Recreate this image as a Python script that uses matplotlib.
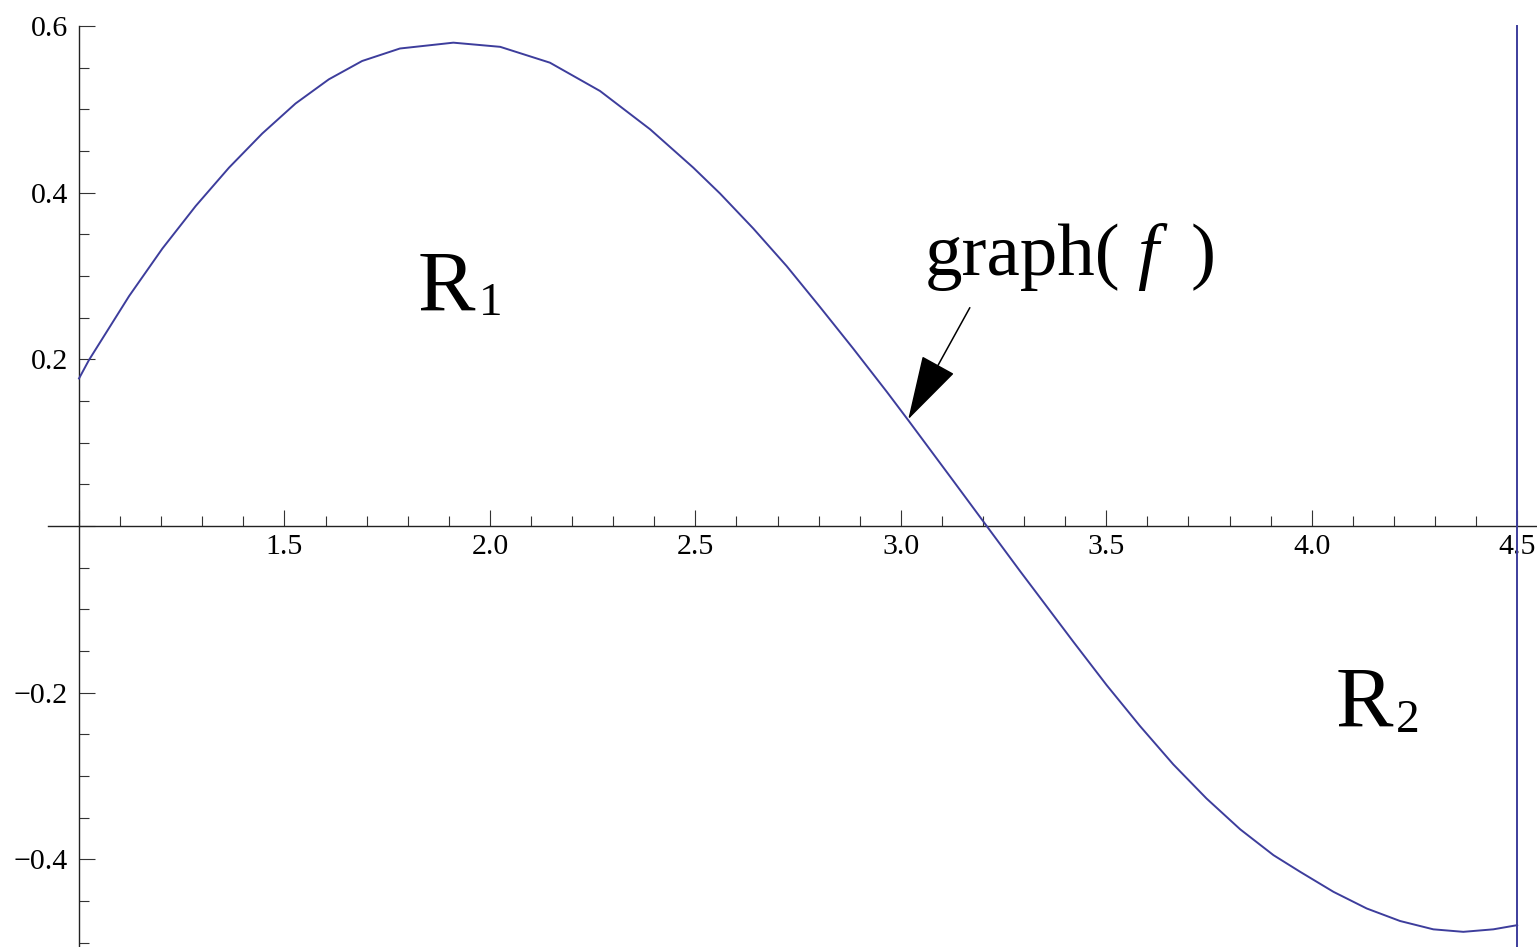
import matplotlib
matplotlib.use("Agg")
import matplotlib.pyplot as plt
from matplotlib.patches import FancyArrowPatch
from matplotlib.ticker import MultipleLocator, FixedLocator, FixedFormatter

# Sampled points of the curve f on [1, 4.5]
x_vals = [1.000, 1.024, 1.122, 1.203, 1.284, 1.365, 1.446, 1.527, 1.608, 1.689,
          1.781, 1.911, 2.025, 2.146, 2.268, 2.390, 2.495, 2.560, 2.641, 2.722,
          2.803, 2.884, 2.966, 3.018, 3.128, 3.209, 3.290, 3.339, 3.420, 3.501,
          3.582, 3.663, 3.744, 3.826, 3.907, 3.972, 4.053, 4.134, 4.215, 4.296,
          4.369, 4.442, 4.500]
y_vals = [0.177, 0.199, 0.276, 0.333, 0.384, 0.430, 0.471, 0.507, 0.536, 0.558,
          0.573, 0.580, 0.575, 0.556, 0.522, 0.476, 0.430, 0.399, 0.357, 0.312,
          0.263, 0.213, 0.161, 0.127, 0.054, 0.000, -0.054, -0.086, -0.139, -0.191,
          -0.240, -0.286, -0.327, -0.364, -0.395, -0.415, -0.439, -0.459, -0.474, -0.484,
          -0.487, -0.484, -0.479]

# Right boundary of the region
x_right = 4.5
boundary_y = [0.6, -0.6]

x_major = [1.0, 1.5, 2.0, 2.5, 3.0, 3.5, 4.0, 4.5]
x_labels = ["", "1.5", "2.0", "2.5", "3.0", "3.5", "4.0", "4.5"]
y_major = [-0.4, -0.2, 0.0, 0.2, 0.4, 0.6]
y_labels = ["\u22120.4", "\u22120.2", "", "0.2", "0.4", "0.6"]

plt.rcParams["font.family"] = ["Liberation Serif", "DejaVu Serif"]

fig = plt.figure(figsize=(15.37, 9.47), dpi=100)
ax = fig.add_axes([0, 0, 1, 1])
ax.set_xlim(0.8077, 4.5483)
ax.set_ylim(-0.5052, 0.6312)

curve_color = "#3d3d9c"
ax.plot(x_vals, y_vals, color=curve_color, lw=1.4, zorder=3,
        solid_joinstyle="round", clip_on=False)
ax.plot([x_right, x_right], boundary_y, color=curve_color, lw=1.4, zorder=3)

# Axes crossing at (1, 0)
for side in ("top", "right"):
    ax.spines[side].set_visible(False)
ax.spines["left"].set_position(("data", 1.0))
ax.spines["bottom"].set_position(("data", 0.0))
ax.spines["left"].set_bounds(-0.6, 0.6)
ax.spines["bottom"].set_bounds(0.925, 4.6)
for s in ("left", "bottom"):
    ax.spines[s].set_linewidth(1.0)
    ax.spines[s].set_color("#222222")

x_minor = [round(1.0 + 0.1 * i, 1) for i in range(1, 35) if i % 5]

ax.xaxis.set_major_locator(FixedLocator(x_major))
ax.xaxis.set_major_formatter(FixedFormatter(x_labels))
ax.xaxis.set_minor_locator(FixedLocator(x_minor))
ax.yaxis.set_major_locator(FixedLocator(y_major))
ax.yaxis.set_major_formatter(FixedFormatter(y_labels))
ax.yaxis.set_minor_locator(MultipleLocator(0.05))

ax.tick_params(axis="both", which="major", direction="in", length=11.5, width=0.8,
               color="#333333", labelsize=21.5, labelcolor="black")
ax.tick_params(axis="both", which="minor", direction="in", length=7.2, width=0.8,
               color="#333333")
ax.tick_params(axis="x", which="major", pad=6)
ax.tick_params(axis="y", which="major", pad=8)
ax.set_facecolor("white")

# Region labels
ax.text(1.825, 0.259, "R", fontsize=62, ha="left", va="baseline")
ax.text(1.974, 0.253, "1", fontsize=34, ha="left", va="baseline")
ax.text(4.057, -0.241, "R", fontsize=62, ha="left", va="baseline")
ax.text(4.206, -0.247, "2", fontsize=34, ha="left", va="baseline")

# Curve label and arrow
ax.text(3.059, 0.301, "graph(", fontsize=54, ha="left", va="baseline")
ax.text(3.575, 0.301, "f", fontsize=54, style="italic", ha="left", va="baseline")
ax.text(3.704, 0.301, ")", fontsize=54, ha="left", va="baseline")

arrow = FancyArrowPatch((3.168, 0.262), (3.018, 0.128),
                        arrowstyle="-|>,head_length=4.2,head_width=1.2",
                        mutation_scale=10, color="black", lw=1.1,
                        shrinkA=0, shrinkB=0, zorder=4)
ax.add_patch(arrow)

fig.savefig("out.png", dpi=100, facecolor="white")
